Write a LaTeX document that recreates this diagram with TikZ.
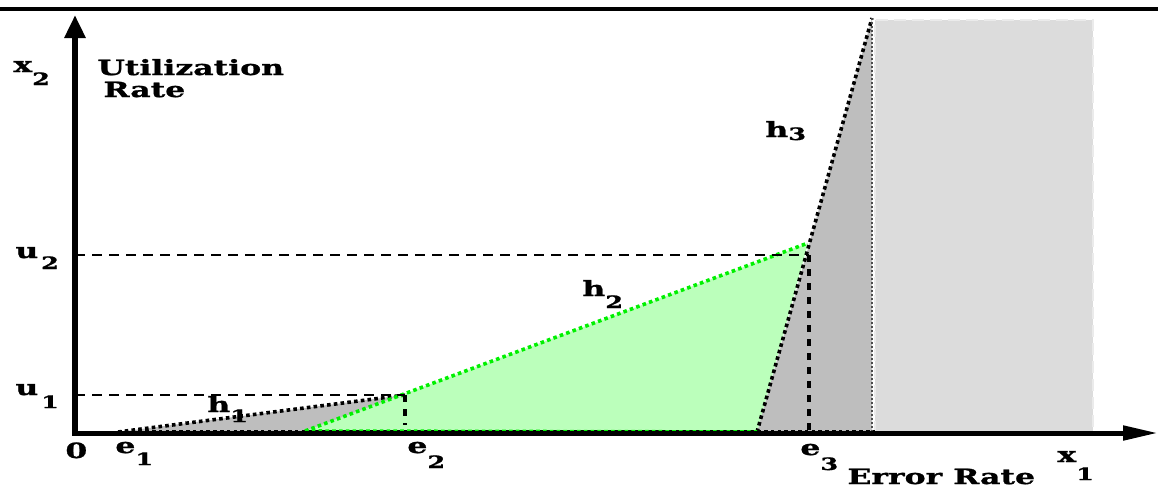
\documentclass[tikz,border=0pt]{standalone}
\usepackage{fontspec}
\setmainfont{DejaVu Serif}[FakeStretch=1.5,BoldFeatures={FakeBold=1.2}]
\usetikzlibrary{arrows.meta}
\definecolor{lightgreen}{RGB}{187,255,187}
\definecolor{brightgreen}{RGB}{0,240,0}
\definecolor{darkshade}{RGB}{190,190,190}
\definecolor{lightshade}{RGB}{220,220,220}
\newcommand{\sub}[2]{\raisebox{-#1}{\fontsize{8.5}{9}\selectfont #2}}

\begin{document}
\begin{tikzpicture}[x=0.5pt,y=-0.5pt,
  lbl/.style={font=\fontsize{10.5}{12}\selectfont\bfseries,inner sep=0pt,anchor=base west},
  dots/.style={line width=1.8pt,dash pattern=on 1.8pt off 1.6pt},
  thindots/.style={line width=0.8pt,dash pattern=on 1pt off 1pt,draw=black!70},
  gdots/.style={dots,draw=brightgreen},
  guide/.style={line width=1.3pt,dash pattern=on 5pt off 3.5pt},
  vguide/.style={line width=2pt,dash pattern=on 3.5pt off 3.5pt},
  ax/.style={line width=2.5pt}]
\useasboundingbox (0,0) rectangle (1158,489);
% key points
\coordinate (o) at (75,433);
\coordinate (e1) at (118,432);
\coordinate (p1) at (405,395);
\coordinate (g0) at (305,431);
\coordinate (p2) at (808,243);
\coordinate (b3) at (757,432);
\coordinate (t3) at (872,18);
% shaded regions
\fill[lightshade] (875,20) rectangle (1093,433);
\draw[white!92!black,line width=1pt,dash pattern=on 6pt off 3pt] (875,433) -- (875,20) -- (1093,20) -- (1093,433);
\fill[darkshade] (b3) -- (t3) -- (t3 |- b3) -- cycle;
\fill[darkshade] (e1) -- (p1) -- (p1 |- e1) -- cycle;
\fill[lightgreen] (g0) -- (p2) -- (b3) -- cycle;
% hull edges
\draw[dots] (e1) -- (p1);
\draw[dots] (e1) -- (875,432);
\draw[dots] (b3) -- (t3);
\draw[thindots] (t3) -- (t3 |- b3);
\draw[gdots] (g0) -- (p2);
\draw[gdots] (g0) -- (b3);
% guides
\draw[guide] (o |- p1) -- (p1);
\draw[vguide] (p1) -- ++(0,30);
\draw[guide] (75,255) -- (809,255);
\draw[vguide] (809,255) -- (809,433);
% axes
\draw[line width=3pt,-{Triangle[length=11.5pt,width=10pt]}] (o) -- (75,15);
\draw[ax,-{Triangle[length=17.5pt,width=7pt]}] (72,433) -- (1158,433);
\draw[line width=1.75pt] (0,9) -- (1158,9);
% labels
\node[lbl] (xtwo) at (13,72) {x\sub{6.5pt}{2}};
\node[lbl] (util) at (97,75) {Utilization};
\node[lbl] (rate) at (103,97) {Rate};
\node[lbl] (utwo) at (15,258) {u\sub{5.5pt}{\,2}};
\node[lbl] (uone) at (15,395) {u\sub{6.5pt}{\,1}};
\node[lbl] (zero) at (65,458) {0};
\node[lbl] (eone) at (115,453) {e\sub{6pt}{1}};
\node[lbl] (etwo) at (407,453) {e\sub{7.5pt}{2}};
\node[lbl] (ethree) at (800,455) {e\sub{7.5pt}{3}};
\node[lbl] (err) at (847,484) {Error Rate};
\node[lbl] (xone) at (1057,462) {x\sub{9pt}{1}};
\node[lbl] (hone) at (207,412) {h\sub{5pt}{1}};
\node[lbl] (htwo) at (582,296) {h\sub{6pt}{2}};
\node[lbl] (hthree) at (765,137) {h\sub{1.5pt}{3}};
\end{tikzpicture}
\end{document}
